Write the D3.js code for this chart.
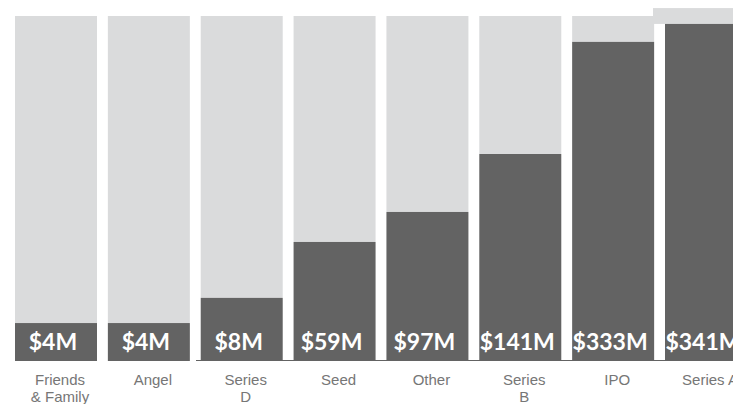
<!DOCTYPE html>
<html>
<head>
<meta charset="utf-8">
<script src="https://cdn.jsdelivr.net/npm/d3@7"></script>
<style>
  html, body { margin: 0; padding: 0; background: #fff; overflow: hidden; }
</style>
</head>
<body>
<svg id="chart" width="733" height="404"></svg>
<script>
// Funding rounds (left to right)
const categories = ["Friends\n& Family", "Angel", "Series\nD", "Seed", "Other", "Series\nB", "IPO", "Series A"];
// Amount raised, shown as label
const amounts = [4, 4, 8, 59, 97, 141, 333, 341];
// Dark bar fill, % of the full grey column
const fillPct = [11, 11, 18.3, 34.5, 43.2, 60, 92.5, 97.7];
// Grey column height, % (the last one sticks out a bit)
const totalPct = [100, 100, 100, 100, 100, 100, 100, 102.3];

const svg = d3.select("#chart");

const x = d3.scaleBand()
  .domain(categories)
  .range([15, 747])
  .paddingInner(0.117)
  .paddingOuter(0);

const y = d3.scaleLinear()
  .domain([0, 100])
  .range([361, 16]);

const data = categories.map((c, i) => ({
  cat: c,
  amount: amounts[i],
  fill: fillPct[i],
  total: totalPct[i],
  last: i === categories.length - 1
}));

// thin baseline under the later bars
svg.append("line")
  .attr("x1", 196).attr("x2", 733)
  .attr("y1", 360.5).attr("y2", 360.5)
  .attr("stroke", "#636363")
  .attr("stroke-width", 1);

// light grey background columns
svg.selectAll("rect.bg")
  .data(data)
  .join("rect")
  .attr("class", "bg")
  .attr("x", d => d.last ? x(d.cat) - 12 : x(d.cat))
  .attr("width", d => d.last ? x.bandwidth() + 12 : x.bandwidth())
  .attr("y", d => y(d.total))
  .attr("height", d => y(d.fill) - y(d.total))
  .attr("fill", "#dadbdc");

// dark filled part
svg.selectAll("rect.fg")
  .data(data)
  .join("rect")
  .attr("class", "fg")
  .attr("x", d => x(d.cat))
  .attr("width", x.bandwidth())
  .attr("y", d => y(d.fill))
  .attr("height", d => y(0) - y(d.fill))
  .attr("fill", "#636363");

// value labels inside the bars
svg.selectAll("text.val")
  .data(data)
  .join("text")
  .attr("class", "val")
  .attr("x", d => x(d.cat) + x.bandwidth() / 2 - 3)
  .attr("y", 350)
  .attr("text-anchor", "middle")
  .attr("font-family", "Lato, 'Open Sans', sans-serif")
  .attr("font-weight", "bold")
  .attr("font-size", 23)
  .attr("fill", "#ffffff")
  .text(d => `$${d.amount}M`);

// category labels under the bars
const cats = svg.selectAll("text.cat")
  .data(data)
  .join("text")
  .attr("class", "cat")
  .attr("x", d => x(d.cat) + x.bandwidth() / 2 + 4)
  .attr("y", 385)
  .attr("text-anchor", "middle")
  .attr("font-family", "'Liberation Sans', Arial, sans-serif")
  .attr("font-size", 15)
  .attr("fill", "#767676");

cats.selectAll("tspan")
  .data(d => d.cat.split("\n").map(t => ({ t, x: x(d.cat) + x.bandwidth() / 2 + 4 })))
  .join("tspan")
  .attr("x", d => d.x)
  .attr("dy", (d, i) => i === 0 ? 0 : 17)
  .text(d => d.t);
</script>
</body>
</html>
